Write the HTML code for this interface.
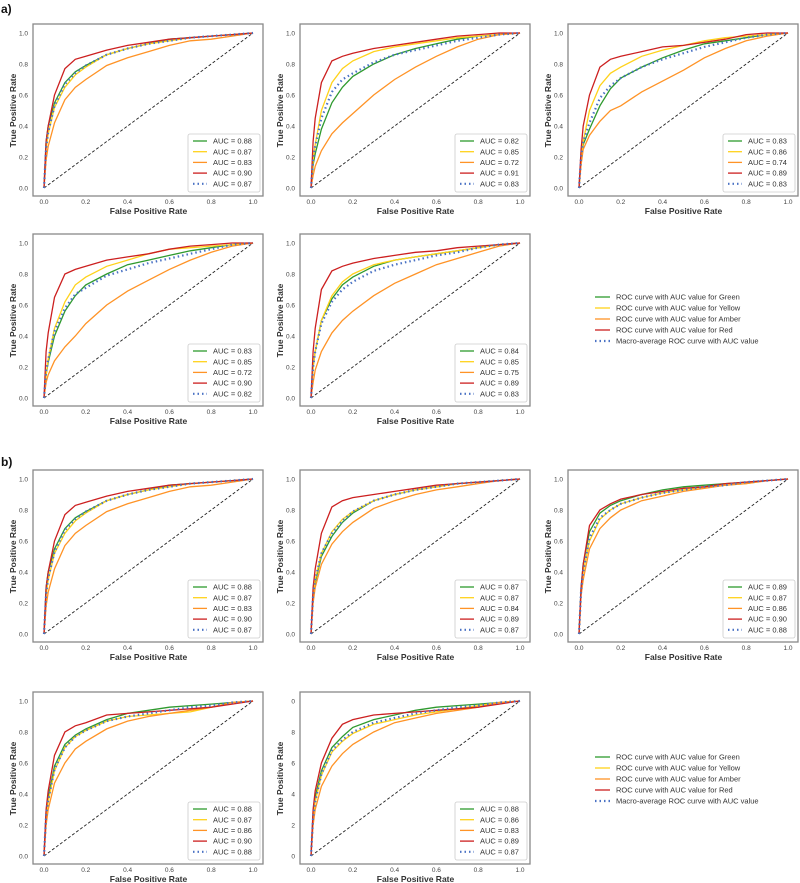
<!DOCTYPE html>
<html><head><meta charset="utf-8"><style>
body{margin:0;background:#fff;}
svg{display:block;font-family:"Liberation Sans","DejaVu Sans",sans-serif;}
</style></head><body>
<svg id="fig" width="800" height="883" viewBox="0 0 800 883">
<text x="1" y="13" font-size="12" font-weight="bold" fill="#111">a)</text>
<text x="1" y="466" font-size="12" font-weight="bold" fill="#111">b)</text>
</svg>
<script>
const fpr = [0,.01,.02,.05,.1,.15,.2,.3,.4,.5,.6,.7,.8,.9,1];
const xTicks = [0,0.2,0.4,0.6,0.8,1.0];
const yTicks = [0,0.2,0.4,0.6,0.8,1.0];
const seriesNames = ['Green','Yellow','Amber','Red','Macro'];
const legendText = ['ROC curve with AUC value for Green','ROC curve with AUC value for Yellow','ROC curve with AUC value for Amber','ROC curve with AUC value for Red','Macro-average ROC curve with AUC value'];

const a1_green=[0,.3,.4,.55,.68,.75,.79,.86,.90,.93,.96,.97,.98,.99,1];
const a1_yellow=[0,.25,.35,.52,.65,.73,.78,.86,.90,.93,.95,.97,.98,.99,1];
const a1_amber=[0,.18,.27,.42,.57,.65,.70,.79,.84,.88,.92,.95,.96,.98,1];
const a1_red=[0,.3,.4,.6,.77,.83,.85,.89,.92,.94,.96,.97,.98,.99,1];
const a1_macro=[0,.26,.36,.53,.67,.74,.79,.86,.90,.93,.95,.97,.98,.99,1];
const a1_auc=['0.88','0.87','0.83','0.90','0.87'];

const a2_green=[0,.15,.22,.38,.55,.65,.72,.80,.86,.90,.93,.96,.98,.99,1];
const a2_yellow=[0,.18,.28,.5,.68,.77,.82,.88,.91,.93,.95,.97,.98,.99,1];
const a2_amber=[0,.08,.14,.24,.35,.42,.48,.60,.70,.78,.85,.91,.96,.99,1];
const a2_red=[0,.3,.45,.68,.82,.85,.87,.9,.92,.94,.96,.98,.99,1,1];
const a2_macro=[0,.18,.27,.45,.62,.70,.74,.81,.86,.89,.92,.95,.97,.99,1];
const a2_auc=['0.82','0.85','0.72','0.91','0.83'];

const a3_green=[0,.2,.28,.38,.53,.64,.71,.78,.84,.89,.93,.95,.97,.99,1];
const a3_yellow=[0,.2,.3,.5,.66,.74,.78,.85,.89,.92,.95,.97,.98,.99,1];
const a3_amber=[0,.15,.25,.34,.43,.50,.53,.62,.69,.76,.84,.90,.95,.98,1];
const a3_red=[0,.25,.4,.6,.78,.83,.85,.88,.91,.92,.94,.96,.99,1,1];
const a3_macro=[0,.2,.3,.42,.58,.66,.71,.78,.83,.87,.91,.94,.97,.99,1];
const a3_auc=['0.83','0.86','0.74','0.89','0.83'];

const a4_green=[0,.15,.23,.4,.56,.66,.73,.80,.86,.89,.92,.95,.97,.99,1];
const a4_yellow=[0,.15,.25,.45,.62,.73,.78,.85,.89,.93,.96,.97,.98,.99,1];
const a4_amber=[0,.1,.15,.24,.33,.40,.48,.60,.69,.76,.83,.89,.94,.98,1];
const a4_red=[0,.3,.42,.65,.8,.83,.85,.89,.91,.93,.96,.98,.99,1,1];
const a4_macro=[0,.17,.25,.43,.58,.67,.71,.79,.83,.87,.90,.93,.96,.99,1];
const a4_auc=['0.83','0.85','0.72','0.90','0.82'];

const a5_green=[0,.2,.3,.5,.64,.73,.78,.85,.89,.91,.93,.95,.97,.99,1];
const a5_yellow=[0,.2,.3,.5,.66,.75,.80,.86,.89,.91,.93,.95,.97,.99,1];
const a5_amber=[0,.1,.18,.3,.42,.5,.56,.66,.74,.8,.86,.9,.94,.98,1];
const a5_red=[0,.3,.45,.7,.82,.85,.87,.90,.92,.94,.95,.97,.98,.99,1];
const a5_macro=[0,.2,.3,.48,.62,.70,.75,.82,.86,.89,.92,.94,.97,.99,1];
const a5_auc=['0.84','0.85','0.75','0.89','0.83'];

const b1_green=[0,.3,.4,.55,.68,.75,.79,.86,.90,.93,.96,.97,.98,.99,1];
const b1_yellow=[0,.25,.35,.52,.65,.73,.78,.86,.90,.93,.95,.97,.98,.99,1];
const b1_amber=[0,.18,.27,.42,.57,.65,.70,.79,.84,.88,.92,.95,.96,.98,1];
const b1_red=[0,.3,.4,.6,.77,.83,.85,.89,.92,.94,.96,.97,.98,.99,1];
const b1_macro=[0,.26,.36,.53,.67,.74,.79,.86,.90,.93,.95,.97,.98,.99,1];
const b1_auc=['0.88','0.87','0.83','0.90','0.87'];

const b2_green=[0,.25,.33,.5,.63,.72,.78,.86,.90,.93,.95,.97,.98,.99,1];
const b2_yellow=[0,.25,.35,.52,.66,.74,.79,.86,.90,.93,.95,.97,.98,.99,1];
const b2_amber=[0,.2,.3,.45,.58,.66,.72,.81,.86,.90,.93,.95,.97,.99,1];
const b2_red=[0,.3,.42,.65,.82,.86,.88,.90,.92,.94,.96,.97,.98,.99,1];
const b2_macro=[0,.25,.35,.52,.65,.73,.79,.86,.90,.93,.95,.97,.98,.99,1];
const b2_auc=['0.87','0.87','0.84','0.89','0.87'];

const b3_green=[0,.3,.45,.66,.78,.83,.86,.90,.93,.95,.96,.97,.98,.99,1];
const b3_yellow=[0,.28,.4,.6,.74,.80,.84,.88,.91,.93,.95,.96,.97,.99,1];
const b3_amber=[0,.25,.35,.55,.68,.75,.80,.86,.89,.92,.94,.96,.97,.99,1];
const b3_red=[0,.3,.45,.7,.8,.84,.87,.90,.92,.94,.95,.97,.98,.99,1];
const b3_macro=[0,.28,.4,.62,.75,.8,.84,.88,.91,.93,.95,.96,.98,.99,1];
const b3_auc=['0.89','0.87','0.86','0.90','0.88'];

const b4_green=[0,.28,.38,.58,.72,.78,.82,.88,.92,.94,.96,.97,.98,.99,1];
const b4_yellow=[0,.25,.35,.55,.70,.77,.81,.87,.90,.91,.92,.93,.96,.99,1];
const b4_amber=[0,.2,.3,.47,.6,.69,.74,.82,.87,.90,.92,.94,.96,.99,1];
const b4_red=[0,.3,.42,.65,.8,.84,.86,.91,.92,.93,.94,.95,.96,.98,1];
const b4_macro=[0,.26,.36,.56,.70,.77,.81,.87,.90,.92,.94,.96,.97,.99,1];
const b4_auc=['0.88','0.87','0.86','0.90','0.88'];

const b5_green=[0,.28,.38,.55,.7,.77,.83,.88,.91,.94,.96,.97,.98,.99,1];
const b5_yellow=[0,.25,.35,.52,.67,.74,.79,.85,.88,.91,.93,.95,.97,.99,1];
const b5_amber=[0,.2,.3,.45,.58,.66,.72,.80,.86,.89,.92,.94,.96,.99,1];
const b5_red=[0,.3,.42,.6,.76,.85,.88,.91,.92,.93,.94,.95,.96,.98,1];
const b5_macro=[0,.25,.35,.53,.68,.75,.80,.86,.89,.92,.94,.96,.97,.99,1];
const b5_auc=['0.88','0.86','0.83','0.89','0.87'];

const panels=[
 {id:'a1',col:0,row:0,s:[a1_green,a1_yellow,a1_amber,a1_red,a1_macro],auc:a1_auc},
 {id:'a2',col:1,row:0,s:[a2_green,a2_yellow,a2_amber,a2_red,a2_macro],auc:a2_auc},
 {id:'a3',col:2,row:0,s:[a3_green,a3_yellow,a3_amber,a3_red,a3_macro],auc:a3_auc},
 {id:'a4',col:0,row:1,s:[a4_green,a4_yellow,a4_amber,a4_red,a4_macro],auc:a4_auc},
 {id:'a5',col:1,row:1,s:[a5_green,a5_yellow,a5_amber,a5_red,a5_macro],auc:a5_auc},
 {id:'b1',col:0,row:2,s:[b1_green,b1_yellow,b1_amber,b1_red,b1_macro],auc:b1_auc},
 {id:'b2',col:1,row:2,s:[b2_green,b2_yellow,b2_amber,b2_red,b2_macro],auc:b2_auc},
 {id:'b3',col:2,row:2,s:[b3_green,b3_yellow,b3_amber,b3_red,b3_macro],auc:b3_auc},
 {id:'b4',col:0,row:3,s:[b4_green,b4_yellow,b4_amber,b4_red,b4_macro],auc:b4_auc},
 {id:'b5',col:1,row:3,s:[b5_green,b5_yellow,b5_amber,b5_red,b5_macro],auc:b5_auc}
];
const colX0=[44,311,579], W=209;
const rowY1=[33,243,479,701], H=155;
const colors=['#2e9a2e','#ffd21a','#ff9326','#cc1f1f','#4a72c4'];
const NS='http://www.w3.org/2000/svg';
const svg=document.getElementById('fig');
function mk(tag,attrs,parent){const e=document.createElementNS(NS,tag);for(const k in attrs)e.setAttribute(k,attrs[k]);(parent||svg).appendChild(e);return e;}

panels.forEach(p=>{
  const x0=colX0[p.col], y1=rowY1[p.row], y0=y1+H;
  const sx=v=>x0+v*W, sy=v=>y0-v*H;
  const g=mk('g',{});
  
  
  const fr=mk('rect',{x:x0-11,y:y1-9,width:W+21,height:H+17,fill:'#fff',stroke:'#888','stroke-width':1.3},g);
  
  
  xTicks.forEach(t=>{
    const tx=mk('text',{x:sx(t),y:y0+16,'font-size':6.5,fill:'#444','text-anchor':'middle'},g);
    tx.textContent=t.toFixed(1);
    
    
  });
  yTicks.forEach(t=>{
    const ty=mk('text',{x:x0-16,y:sy(t)+2.3,'font-size':6.5,fill:'#444','text-anchor':'end'},g);
    ty.textContent=(p.id==='b5')?String(Math.round(t*10)%10):t.toFixed(1);
    
    
  });
  const xl=mk('text',{x:x0+W/2,y:y0+26,'font-size':8.5,'font-weight':'bold',fill:'#333','text-anchor':'middle'},g);
  xl.textContent='False Positive Rate';
  
  
  const yl=mk('text',{x:0,y:0,'font-size':8.5,'font-weight':'bold',fill:'#333','text-anchor':'middle',transform:`translate(${x0-28},${y0-H/2}) rotate(-90)`},g);
  yl.textContent='True Positive Rate';
  
  
  const dg=mk('line',{x1:sx(0),y1:sy(0),x2:sx(1),y2:sy(1),stroke:'#222','stroke-width':0.9,'stroke-dasharray':'3,2'},g);
  
  
  p.s.forEach((arr,i)=>{
    const d=arr.map((v,j)=>(j?'L':'M')+sx(fpr[j]).toFixed(1)+','+sy(v).toFixed(1)).join(' ');
    const pa=mk('path',{d:d,fill:'none',stroke:colors[i],'stroke-width':i===4?2.2:1.3},g);
    if(i===4)pa.setAttribute('stroke-dasharray','1.5,3');
    
    
  });
  const lb=mk('rect',{x:x0+W-65,y:y0-54,width:72,height:58,fill:'#fff',stroke:'#ccc','stroke-width':0.8,rx:2},g);
  
  
  p.auc.forEach((a,i)=>{
    const yy=y0-47+i*10.7;
    const ll=mk('line',{x1:x0+W-60,y1:yy,x2:x0+W-46,y2:yy,stroke:colors[i],'stroke-width':i===4?2.2:1.3},g);
    if(i===4)ll.setAttribute('stroke-dasharray','1.5,3');
    
    
    const lt=mk('text',{x:x0+W-40,y:yy+2.6,'font-size':7.5,fill:'#333'},g);
    lt.textContent='AUC = '+a;
    
    
  });
});

[297,757].forEach((top,k)=>{
  const g=mk('g',{});
  
  
  legendText.forEach((t,i)=>{
    const yy=top+i*11;
    const ll=mk('line',{x1:595,y1:yy,x2:610,y2:yy,stroke:colors[i],'stroke-width':i===4?2.2:1.3},g);
    if(i===4)ll.setAttribute('stroke-dasharray','1.5,3');
    
    
    const lt=mk('text',{x:616,y:yy+2.6,'font-size':7.5,fill:'#333'},g);
    lt.textContent=t;
    
    
  });
});
</script>
</body></html>
